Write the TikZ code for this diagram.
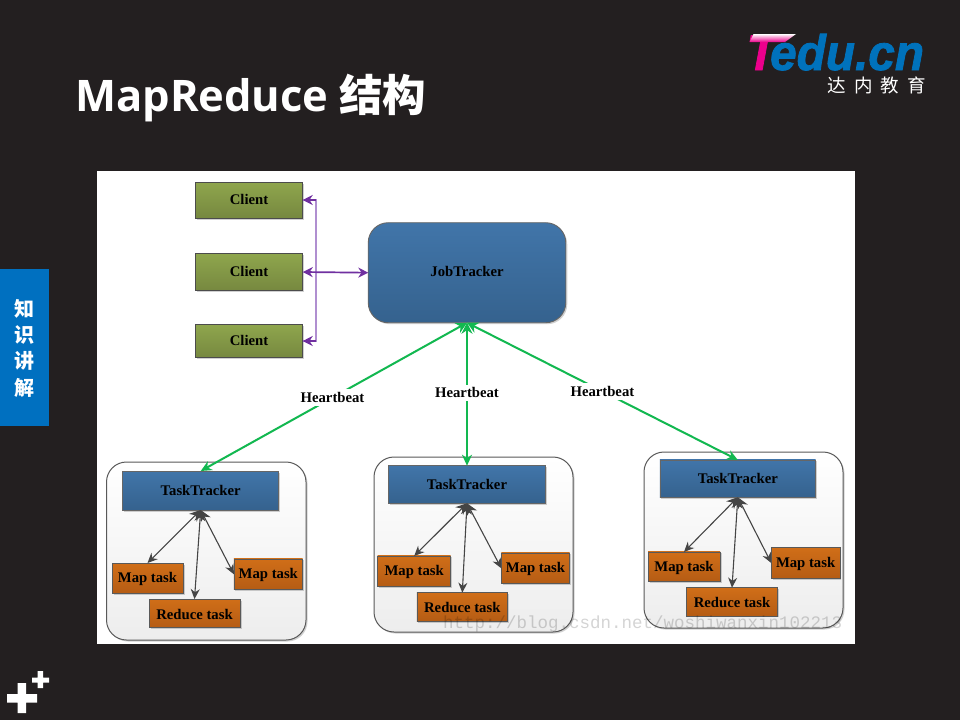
\documentclass[tikz,border=0pt]{standalone}
\usepackage{fontspec}
\setmainfont{Liberation Serif}
\newfontfamily\titlefont{Open Sans}
\newfontfamily\cjkfont{Noto Sans CJK SC}
\newfontfamily\logofont[FakeBold=1.6]{Liberation Sans}
\newfontfamily\markfont{Liberation Mono}
\usetikzlibrary{arrows.meta,shadows}
\definecolor{slatebg}{HTML}{231F20}
\definecolor{tabblue}{HTML}{0070C0}
\definecolor{logoblue}{HTML}{0072BC}
\definecolor{logopink}{HTML}{EC008C}
\definecolor{purpdark}{HTML}{7030A0}
\definecolor{purplight}{HTML}{B08FD0}
\definecolor{beatgreen}{HTML}{12B850}
\definecolor{hubgray}{HTML}{454545}
\definecolor{clientTop}{HTML}{8FA64D}
\definecolor{clientBot}{HTML}{76883F}
\definecolor{blueTop}{HTML}{4175A9}
\definecolor{blueBot}{HTML}{35628E}
\definecolor{orangeTop}{HTML}{D06E18}
\definecolor{orangeBot}{HTML}{B55C14}
\tikzset{
  x=1pt,y=-1pt,
  softshadow/.style={drop shadow={shadow xshift=1.5pt,shadow yshift=-1.5pt,opacity=.3,fill=black!60}},
  labelfont/.style={font=\fontsize{14.7}{16}\selectfont\bfseries,text=black,inner sep=0pt,outer sep=0pt},
  clientbox/.style={labelfont,text depth=2pt,draw=black!70,line width=.9pt,top color=clientTop,bottom color=clientBot,softshadow},
  trackerbox/.style={labelfont,draw=black!60,line width=.9pt,top color=blueTop,bottom color=blueBot,softshadow},
  taskbox/.style={labelfont,text height=12pt,draw=black!65,line width=.9pt,top color=orangeTop,bottom color=orangeBot,softshadow},
  groupbox/.style={draw=black!65,line width=1pt,rounded corners=20pt,top color=white,bottom color=black!7,softshadow},
  beatlabel/.style={labelfont,fill=white,inner xsep=1.5pt,inner ysep=3pt},
  beatline/.style={draw=beatgreen,line width=2pt,{Stealth[length=11pt,width=11pt]}-{Stealth[length=11pt,width=10pt]}},
  hubline/.style={draw=hubgray,line width=1.1pt,{Stealth[length=11pt,width=11pt]}-{Stealth[length=10pt,width=9pt]}},
  purpletip/.style={purpdark,line width=1.4pt},
}
\begin{document}
\begin{tikzpicture}
\useasboundingbox (0,0) rectangle (960,720);
\fill[slatebg] (0,0) rectangle (960,720);
% title
\node[anchor=base west,inner sep=0pt,text=white,font=\fontsize{43.5}{48}\selectfont] (title) at (75,111)
  {{\titlefont\bfseries MapReduce} {\cjkfont\bfseries 结构}};
% logo
\node[anchor=base west,inner sep=0pt,xscale=.955,font=\fontsize{50}{52}\selectfont\logofont\bfseries\itshape,text=logoblue] (logo) at (746.5,70)
  {\textcolor{logopink}{T}\kern-.12em edu.cn};
\shade[left color=white,right color=logopink,shading angle=0] (753.5,34) -- (796,34) -- (785,42) -- (749.5,42) -- cycle;
\node[anchor=base east,inner sep=0pt,text=white,font=\fontsize{18.5}{20}\selectfont\cjkfont] (logosub) at (926,92)
  {达\hspace{8pt}内\hspace{8pt}教\hspace{8pt}育};
% side tab
\fill[tabblue] (0,269) rectangle (49,426);
\node[text=white,align=center,inner sep=0pt,font=\fontsize{20}{26.3}\selectfont\cjkfont\bfseries] (tab) at (24.5,348)
  {知\\识\\讲\\解};
% plus marks
\fill[white] (17.5,683) rectangle (26,713) (7,694) rectangle (37,702.5);
\fill[white] (37.5,671) rectangle (43,688) (32,677.5) rectangle (49,682.5);
% picture panel
\fill[white] (97,171) rectangle (855,644);
% groups
\path[groupbox] (106.5,462) rectangle (306,640);
\path[groupbox] (374,457) rectangle (573,632);
\path[groupbox] (644,452) rectangle (843,628);
% top nodes
\node[clientbox,minimum width=107.5pt,minimum height=36pt] (c1) at (249,200) {Client};
\node[clientbox,minimum width=107.5pt,minimum height=37.5pt] (c2) at (249,272) {Client};
\node[clientbox,minimum width=107.5pt,minimum height=33.5pt] (c3) at (249,341) {Client};
\node[trackerbox,text depth=2pt,rounded corners=20pt,minimum width=197.5pt,minimum height=100pt] (jt) at (467,272.7) {JobTracker};
% group 1
\node[trackerbox,minimum width=156pt,minimum height=39pt] (tt1) at (200.7,490.5) {TaskTracker};
\node[taskbox,minimum width=71pt,minimum height=30pt] (m11) at (147.5,578) {Map task};
\node[taskbox,minimum width=91pt,minimum height=28.7pt] (r1) at (194.5,613.4) {Reduce task};
\node[taskbox,minimum width=68.7pt,minimum height=30.7pt] (m12) at (268.3,574.3) {Map task};
% group 2
\node[trackerbox,minimum width=156.7pt,minimum height=37.6pt] (tt2) at (467,484.5) {TaskTracker};
\node[taskbox,minimum width=73pt,minimum height=30.7pt] (m21) at (414.2,571.3) {Map task};
\node[taskbox,minimum width=90.7pt,minimum height=28.6pt] (r2) at (462.3,607) {Reduce task};
\node[taskbox,minimum width=68.4pt,minimum height=30.7pt] (m22) at (535.5,568.3) {Map task};
% group 3
\node[trackerbox,minimum width=155.7pt,minimum height=37.3pt] (tt3) at (737.8,478.6) {TaskTracker};
\node[taskbox,minimum width=72pt,minimum height=29.3pt] (m31) at (684,566.6) {Map task};
\node[taskbox,minimum width=91.4pt,minimum height=28.3pt] (r3) at (732,601.8) {Reduce task};
\node[taskbox,minimum width=68.7pt,minimum height=30.6pt] (m32) at (805.6,563) {Map task};
% client bus
\coordinate (bus) at (316,272);
\draw[purplight,line width=1.4pt] (c1.east) -| (bus) |- (c3.east);
\draw[purpletip,{Stealth[length=10pt,width=10pt]}-] (c1.east) -- +(13,0);
\draw[purpletip,{Stealth[length=10pt,width=10pt]}-] (c3.east) -- +(13,0);
\draw[purpletip,line width=1.7pt,{Stealth[length=10pt,width=10pt]}-{Stealth[length=10pt,width=10pt]}] (c2.east) -- (jt.west);
% heartbeats
\draw[beatline] (jt.south) -- node[beatlabel,pos=.505] (h1) {Heartbeat} (tt1.north);
\draw[beatline] (jt.south) -- node[beatlabel,pos=.49] (h2) {Heartbeat} (tt2.north);
\draw[beatline] (jt.south) -- node[beatlabel,pos=.5] (h3) {Heartbeat} (tt3.north);
% task links
\foreach \t/\a/\b/\c in {tt1/m11/r1/m12,tt2/m21/r2/m22,tt3/m31/r3/m32}{
  \draw[hubline] (\t.south) -- (\a.north);
  \draw[hubline] (\t.south) -- (\b.north);
  \draw[hubline] (\t.south) -- (\c.west);
}
% watermark
\node[anchor=base west,inner sep=0pt,text=black,opacity=.17,font=\fontsize{17.5}{18}\selectfont\markfont] (mark) at (443,628)
  {http://blog.csdn.net/woshiwanxin102213};
\end{tikzpicture}
\end{document}
